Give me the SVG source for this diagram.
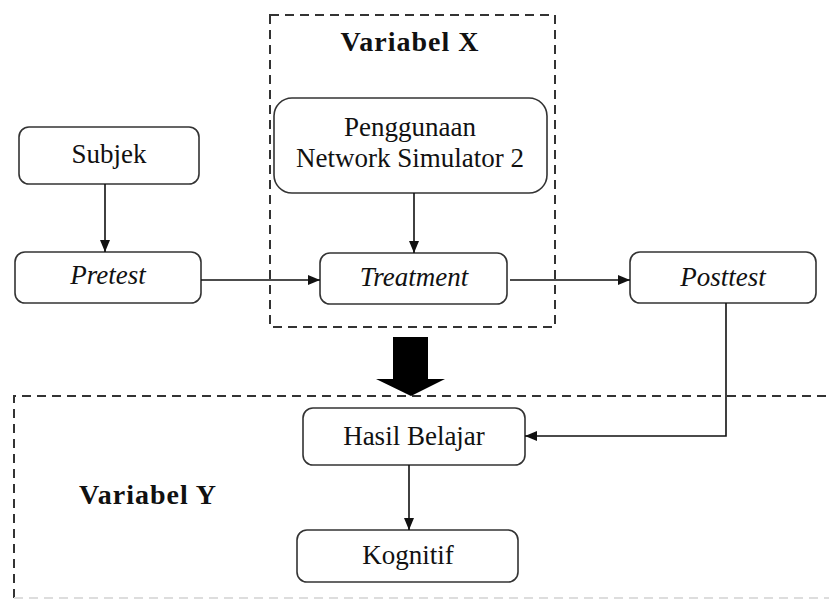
<svg xmlns="http://www.w3.org/2000/svg" width="829" height="599" viewBox="0 0 829 599">
<style>
.box{fill:#fff;stroke:#333;stroke-width:1.6}
.dash{fill:none;stroke:#333;stroke-width:2;stroke-dasharray:9 6}
.t{font-family:"Liberation Serif","Times New Roman",serif;font-size:27px;fill:#111;text-anchor:middle}
.i{font-style:italic}
.b{font-weight:bold;font-size:28px;letter-spacing:1px}
.ln{fill:none;stroke:#111;stroke-width:1.6}
</style>
<defs>
<marker id="ah" viewBox="0 0 12 10" refX="12" refY="5" markerWidth="12" markerHeight="10" markerUnits="userSpaceOnUse" orient="auto">
<path d="M0,0 L12,5 L0,10 Z" fill="#111"/>
</marker>
</defs>
<rect width="829" height="599" fill="#fff"/>
<g id="groupX">
<rect class="dash" x="270" y="15" width="285" height="312"/>
<text class="t b" x="410" y="51">Variabel X</text>
</g>
<g id="groupY">
<path class="dash" d="M14,598 V396 H829"/>
<path d="M14,598 H829" fill="none" stroke="#ddd" stroke-width="2" stroke-dasharray="9 6"/>
<text class="t b" x="148" y="504">Variabel Y</text>
</g>
<g id="subjek">
<rect class="box" x="19" y="127" width="180" height="57" rx="10"/>
<text class="t" x="109" y="163">Subjek</text>
</g>
<g id="penggunaan">
<rect class="box" x="274" y="98" width="273" height="95" rx="18"/>
<text class="t" x="410" y="136">Penggunaan</text>
<text class="t" x="410" y="167">Network Simulator 2</text>
</g>
<g id="pretest">
<rect class="box" x="15" y="252" width="186" height="51" rx="10"/>
<text class="t i" x="108" y="284">Pretest</text>
</g>
<g id="treatment">
<rect class="box" x="320" y="253" width="187" height="51" rx="10"/>
<text class="t i" x="414" y="286">Treatment</text>
</g>
<g id="posttest">
<rect class="box" x="630" y="252" width="186" height="51" rx="10"/>
<text class="t i" x="723" y="286">Posttest</text>
</g>
<g id="hasil">
<rect class="box" x="303" y="408" width="222" height="57" rx="10"/>
<text class="t" x="414" y="445">Hasil Belajar</text>
</g>
<g id="kognitif">
<rect class="box" x="297" y="530" width="221" height="52" rx="10"/>
<text class="t" x="408" y="564">Kognitif</text>
</g>
<g id="connectors">
<path class="ln" d="M105,184 V252" marker-end="url(#ah)"/>
<path class="ln" d="M414,193 V253" marker-end="url(#ah)"/>
<path class="ln" d="M201,280 H320" marker-end="url(#ah)"/>
<path class="ln" d="M510,280 H630" marker-end="url(#ah)"/>
<path class="ln" d="M726,303 V436 H525" marker-end="url(#ah)"/>
<path class="ln" d="M409,465 V530" marker-end="url(#ah)"/>
<path d="M393,337 H428 V379 H445 L411,396 L376,379 H393 Z" fill="#000"/>
</g>
</svg>
